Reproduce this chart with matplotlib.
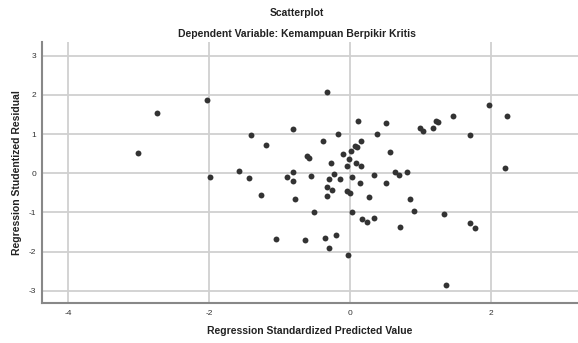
import numpy as np
import matplotlib.pyplot as plt

plt.rcParams['font.family'] = ['Liberation Sans', 'DejaVu Sans']
plt.rcParams['axes.unicode_minus'] = False

# Standardized predicted value (x) and studentized residual (y)
pred = [-2.04, -2.75, -3.02, -0.33, 0.11, 0.50, -1.41, -0.82, -0.17, 0.38,
        -1.20, -0.39, 0.15, 0.07, 0.10, 0.56, 0.01, -0.61, -0.58, -0.11,
        -0.02, -0.27, -0.05, 0.08, 0.15, -1.58, 1.97, 2.22, 1.45, 0.99,
        1.03, 1.17, 1.22, 1.24, 1.70, 2.20, -1.99, -1.44, -1.27, -1.06,
        -0.90, -0.82, -0.81, -0.78, -0.65, -0.56, -0.52, -0.36, -0.30, -0.21,
        -0.04, -0.23, -0.30, -0.14, 0.02, -0.33, -0.26, -0.33, -0.05, -0.01,
        0.14, 0.33, 0.26, 0.50, 0.64, 0.69, 0.02, 0.17, 0.23, 0.33,
        0.71, 0.81, 0.85, 0.90, 1.33, 1.70, 1.77, 1.35]
resid = [1.86, 1.54, 0.51, 2.06, 1.32, 1.28, 0.97, 1.12, 0.99, 1.01,
         0.71, 0.83, 0.83, 0.70, 0.66, 0.55, 0.57, 0.44, 0.40, 0.48,
         0.37, 0.25, 0.19, 0.26, 0.18, 0.06, 1.75, 1.45, 1.46, 1.16,
         1.08, 1.16, 1.33, 1.30, 0.97, 0.13, -0.10, -0.12, -0.55, -1.68,
         -0.09, 0.02, -0.20, -0.67, -1.70, -0.06, -1.00, -1.65, -1.91, -1.57,
         -2.08, -0.02, -0.16, -0.14, -0.10, -0.34, -0.43, -0.57, -0.46, -0.50,
         -0.26, -0.04, -0.62, -0.24, 0.03, -0.04, -0.99, -1.16, -1.25, -1.15,
         -1.38, 0.04, -0.66, -0.96, -1.04, -1.27, -1.40, -2.85]

xticks = [-4, -2, 0, 2]
yticks = [-3, -2, -1, 0, 1, 2, 3]

fig = plt.figure(figsize=(5.78, 3.43), dpi=100)
ax = fig.add_axes([0.0721, 0.1157, 0.9279, 0.761])

ax.scatter(pred, resid, s=18, color='#333333', zorder=3, linewidths=0)

ax.set_xlim(-4.38, 3.23)
ax.set_ylim(-3.32, 3.34)
ax.set_xticks(xticks)
ax.set_yticks(yticks)
ax.grid(True, color='#d0d0d0', linewidth=1.3)
ax.set_axisbelow(True)
ax.tick_params(length=0, labelsize=6, labelcolor='#333333')
ax.tick_params(axis='x', pad=5)
ax.tick_params(axis='y', pad=4)
for side in ['top', 'right']:
    ax.spines[side].set_visible(False)
for side in ['left', 'bottom']:
    ax.spines[side].set_color('#888888')
    ax.spines[side].set_linewidth(1.5)

ax.set_xlabel('Regression Standardized Predicted Value', fontsize=7.5,
              fontweight='bold', color='#222222', labelpad=6)
ax.set_ylabel('Regression Studentized Residual', fontsize=7.5,
              fontweight='bold', color='#222222', labelpad=5)

fig.text(0.514, 0.962, 'Scatterplot', ha='center', va='center',
         fontsize=7.5, fontweight='bold', color='#222222')
fig.text(0.514, 0.902, 'Dependent Variable: Kemampuan Berpikir Kritis',
         ha='center', va='center', fontsize=7.5, fontweight='bold', color='#222222')

fig.savefig('out.png', dpi=100)
